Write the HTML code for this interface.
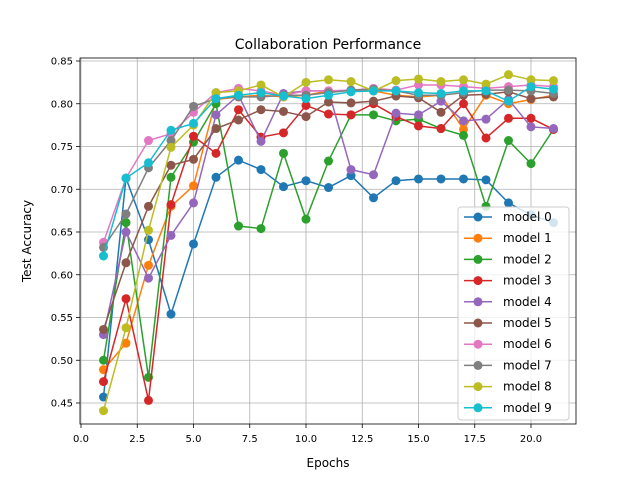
<!DOCTYPE html>
<html><head><meta charset="utf-8"><style>
html,body{margin:0;padding:0;background:#fff;}
svg{display:block;font-family:"DejaVu Sans","Liberation Sans",sans-serif;}
</style></head><body>
<svg id="chart" width="640" height="480" viewBox="0 0 640 480"></svg>
<script>
const epochs=[1,2,3,4,5,6,7,8,9,10,11,12,13,14,15,16,17,18,19,20,21];
const seriesNames=["model 0","model 1","model 2","model 3","model 4","model 5","model 6","model 7","model 8","model 9"];
const m0=[0.457,0.713,0.641,0.554,0.636,0.714,0.734,0.723,0.703,0.710,0.702,0.716,0.690,0.710,0.712,0.712,0.712,0.711,0.684,0.670,0.661];
const m1=[0.489,0.520,0.611,0.680,0.704,0.805,0.808,0.810,0.808,0.810,0.815,0.815,0.815,0.810,0.808,0.810,0.770,0.810,0.800,0.805,0.810];
const m2=[0.500,0.661,0.480,0.714,0.755,0.800,0.657,0.654,0.742,0.665,0.733,0.787,0.787,0.780,0.782,0.771,0.763,0.680,0.757,0.730,0.770];
const m3=[0.475,0.572,0.453,0.682,0.762,0.742,0.793,0.761,0.766,0.798,0.788,0.787,0.800,0.785,0.774,0.771,0.800,0.760,0.783,0.783,0.770];
const m4=[0.530,0.650,0.596,0.646,0.684,0.787,0.810,0.756,0.812,0.815,0.815,0.723,0.717,0.789,0.787,0.803,0.780,0.782,0.805,0.773,0.771];
const m5=[0.536,0.614,0.680,0.728,0.735,0.771,0.781,0.793,0.791,0.785,0.802,0.801,0.803,0.809,0.807,0.790,0.810,0.811,0.814,0.806,0.808];
const m6=[0.638,0.713,0.757,0.765,0.790,0.813,0.818,0.815,0.810,0.815,0.815,0.816,0.818,0.816,0.822,0.822,0.820,0.818,0.820,0.822,0.820];
const m7=[0.632,0.671,0.725,0.757,0.797,0.806,0.808,0.808,0.810,0.810,0.813,0.816,0.817,0.815,0.810,0.810,0.813,0.816,0.816,0.815,0.812];
const m8=[0.441,0.538,0.652,0.749,0.775,0.813,0.815,0.822,0.808,0.825,0.828,0.826,0.815,0.827,0.829,0.826,0.828,0.823,0.834,0.828,0.827];
const m9=[0.622,0.713,0.731,0.769,0.777,0.806,0.810,0.813,0.809,0.806,0.810,0.814,0.815,0.815,0.813,0.812,0.815,0.815,0.803,0.820,0.817];
const seriesValues=[m0,m1,m2,m3,m4,m5,m6,m7,m8,m9];
const xTicks=[0,2.5,5,7.5,10,12.5,15,17.5,20];
const xTickLabels=["0.0","2.5","5.0","7.5","10.0","12.5","15.0","17.5","20.0"];
const yTicks=[0.45,0.5,0.55,0.6,0.65,0.7,0.75,0.8,0.85];
const yTickLabels=["0.45","0.50","0.55","0.60","0.65","0.70","0.75","0.80","0.85"];
const colors=["#1f77b4","#ff7f0e","#2ca02c","#d62728","#9467bd","#8c564b","#e377c2","#7f7f7f","#bcbd22","#17becf"];

const L=80,R=576,T=58,B=424;
const xs=v=>81+v*22.5;
const ys=v=>61+(0.85-v)*855;
const svg=document.getElementById('chart');
const NS="http://www.w3.org/2000/svg";
function mk(tag,attrs,parent){const e=document.createElementNS(NS,tag);for(const k in attrs)e.setAttribute(k,attrs[k]);(parent||svg).appendChild(e);return e;}

const grid=mk('g',{});


xTicks.forEach((t,i)=>{
  mk('line',{x1:xs(t),x2:xs(t),y1:T,y2:B,stroke:'#b0b0b0','stroke-width':0.8},grid);
  const tk=mk('line',{x1:xs(t),x2:xs(t),y1:B,y2:B+4,stroke:'#000','stroke-width':0.8});
  const tx=mk('text',{x:xs(t),y:B+18,'font-size':10,'text-anchor':'middle',fill:'#000'});
  tx.textContent=xTickLabels[i];
  
  
});
yTicks.forEach((t,i)=>{
  mk('line',{x1:L,x2:R,y1:ys(t),y2:ys(t),stroke:'#b0b0b0','stroke-width':0.8},grid);
  mk('line',{x1:L-4,x2:L,y1:ys(t),y2:ys(t),stroke:'#000','stroke-width':0.8});
  const tx=mk('text',{x:L-7,y:ys(t)+3.5,'font-size':10,'text-anchor':'end',fill:'#000'});
  tx.textContent=yTickLabels[i];
  
  
});

seriesValues.forEach((vals,s)=>{
  const g=mk('g',{});
  
  
  const pts=vals.map((v,i)=>xs(epochs[i])+','+ys(v)).join(' ');
  mk('polyline',{points:pts,fill:'none',stroke:colors[s],'stroke-width':1.5},g);
  vals.forEach((v,i)=>{
    const c=mk('circle',{cx:xs(epochs[i]),cy:ys(v),r:4.5,fill:colors[s]},g);
    
    
  });
});

const frame=mk('rect',{x:L,y:T,width:R-L,height:B-T,fill:'none',stroke:'#000','stroke-width':0.8});



const title=mk('text',{x:328,y:49,'font-size':14,'text-anchor':'middle',fill:'#000'});
title.textContent='Collaboration Performance';


const xl=mk('text',{x:328,y:467,'font-size':12,'text-anchor':'middle',fill:'#000'});
xl.textContent='Epochs';


const yl=mk('text',{x:31,y:241,'font-size':12,'text-anchor':'middle',fill:'#000',transform:'rotate(-90 31 241)'});
yl.textContent='Test Accuracy';



const lg=mk('g',{});


mk('rect',{x:458,y:207,width:111,height:213,rx:3,fill:'#fff','fill-opacity':0.8,stroke:'#ccc','stroke-width':1},lg);
seriesNames.forEach((n,i)=>{
  const y=217+i*21.2;
  const e=mk('g',{},lg);
  
  
  mk('line',{x1:464,x2:492,y1:y,y2:y,stroke:colors[i],'stroke-width':1.5},e);
  mk('circle',{cx:478,cy:y,r:4.5,fill:colors[i]},e);
  const t=mk('text',{x:503,y:y+4,'font-size':12,fill:'#000'},e);
  t.textContent=n;
});
</script>
</body></html>
